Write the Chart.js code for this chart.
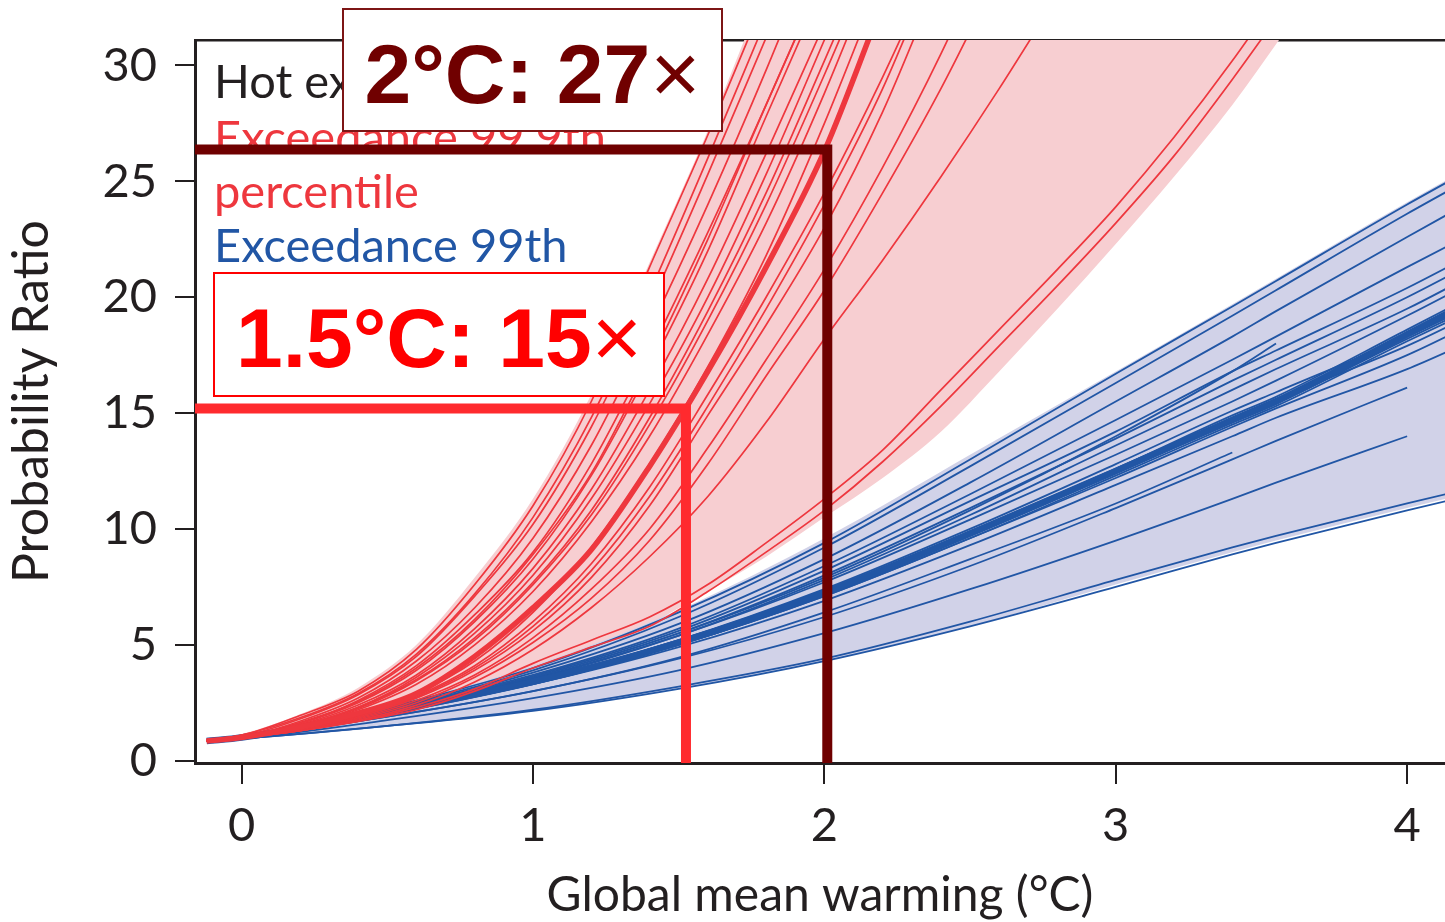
<!DOCTYPE html>
<html lang="en">
<head>
<meta charset="UTF-8">
<title>Hot extremes: probability ratio vs warming</title>
<script src="https://cdn.jsdelivr.net/npm/chart.js"></script>
<style>
  html, body { margin: 0; padding: 0; background: #fff; }
  #wrap { width: 1445px; height: 922px; position: relative; }
</style>
</head>
<body>
<div id="wrap"><canvas id="prChart"></canvas></div>
<script>
// warming levels (°C) at which the red (99.9th) model runs were read
const redWarming = [-0.12, 0, 0.2, 0.4, 0.6, 0.8, 1.0, 1.2, 1.4, 1.6, 1.8, 2.0, 2.2, 2.4, 2.6, 2.8, 3.0, 3.2, 3.4, 3.6];
const redRuns = [
  [0.9, 1.1, 1.95, 3.0, 4.8, 7.6, 11.0, 15.5, 21.3, 27.0, 33.0],
  [0.9, 1.05, 1.8, 2.85, 4.5, 7.1, 10.2, 14.4, 19.6, 25.3, 31.2, 37],
  [0.85, 1.1, 1.85, 2.9, 4.6, 7.2, 10.5, 14.8, 20.2, 26.0, 32.0],
  [0.9, 1.0, 1.7, 2.7, 4.3, 6.6, 9.6, 13.6, 18.6, 24.0, 29.8, 36],
  [0.85, 1.0, 1.6, 2.6, 4.1, 6.3, 9.0, 12.8, 17.6, 22.8, 28.3, 34],
  [0.85, 1.0, 1.6, 2.5, 3.9, 6.0, 8.7, 12.3, 16.9, 22.0, 27.8, 33.5],
  [0.85, 1.0, 1.65, 2.55, 4.0, 6.1, 8.9, 12.4, 17.2, 22.5, 28.3, 34],
  [0.85, 1.0, 1.55, 2.4, 3.7, 5.7, 8.3, 11.7, 16.0, 20.8, 26.2, 31.8],
  [0.9, 1.0, 1.5, 2.3, 3.6, 5.5, 8.0, 11.3, 15.4, 20.0, 25.3, 31.1, 37],
  [0.9, 1.0, 1.5, 2.3, 3.5, 5.3, 7.7, 10.8, 14.8, 19.4, 24.5, 30.2, 36],
  [0.9, 1.0, 1.5, 2.25, 3.45, 5.2, 7.6, 10.6, 14.5, 19.0, 24.0, 29.6, 35.5],
  [0.85, 1.0, 1.45, 2.2, 3.3, 5.0, 7.3, 10.3, 14.0, 18.4, 23.2, 28.8, 35],
  [0.85, 1.0, 1.4, 2.0, 2.9, 4.3, 6.4, 9.2, 12.8, 17.0, 21.8, 27.5, 33.8],
  [0.85, 1.0, 1.4, 1.95, 2.8, 4.1, 6.0, 8.5, 11.8, 15.8, 20.0, 24.5, 29.5, 35],
  [0.85, 1.0, 1.35, 1.9, 2.7, 3.9, 5.6, 7.9, 11.0, 14.9, 18.8, 23.0, 28.0, 34],
  [0.85, 1.0, 1.35, 1.9, 2.75, 4.0, 5.8, 8.2, 11.4, 15.3, 19.5, 24.0, 29.0, 35],
  [0.85, 1.0, 1.35, 1.85, 2.6, 3.7, 5.3, 7.4, 10.0, 13.5, 17.3, 21.2, 25.6, 30.5, 36],
  [0.85, 1.0, 1.3, 1.8, 2.5, 3.6, 5.1, 7.0, 9.5, 12.8, 16.6, 20.3, 24.5, 29.0, 34],
  [0.85, 1.0, 1.3, 1.75, 2.4, 3.4, 4.8, 6.6, 8.8, 11.4, 14.6, 18.2, 21.6, 25.2, 29.0, 33],
  [0.85, 1.0, 1.3, 1.7, 2.3, 3.1, 4.2, 5.2, 6.2, 7.6, 9.4, 11.3, 13.4, 16.0, 18.6, 21.2, 23.9, 26.9, 30.2, 33.8],
  [0.85, 1.0, 1.3, 1.7, 2.2, 3.0, 4.0, 4.9, 5.8, 7.3, 9.0, 10.8, 12.9, 15.3, 17.9, 20.5, 23.2, 26.1, 29.4, 32.9]
];
const redMedian = [0.85, 1.0, 1.45, 2.05, 2.9, 4.5, 6.6, 9.1, 12.7, 16.8, 21.3, 26.3, 32.7];
const redBandHigh = [0.9, 1.15, 2.0, 3.15, 5.0, 7.9, 11.3, 15.8, 21.5, 27.2, 33.5, 40, 40, 40, 40, 40, 40, 40, 40, 40];
const redBandLow = [0.85, 1.0, 1.4, 1.85, 2.5, 3.2, 3.9, 4.8, 5.9, 7.3, 8.8, 10.5, 12.2, 14.2, 16.8, 19.5, 22.3, 25.2, 28.3, 31.8];

// warming levels (°C) at which the blue (99th) model runs were read
const blueWarming = [-0.12, 0, 0.5, 1.0, 1.5, 2.0, 2.5, 3.0, 3.4, 3.55, 4.0, 4.2];
const blueRuns = [
  [0.85, 1.0, 2.3, 4.0, 6.4, 9.4, 13.0, 16.7, 19.6, 20.7, 24.0, 25.4],
  [0.85, 1.0, 2.25, 3.9, 6.2, 9.2, 12.7, 16.3, 19.2, 20.3, 23.6, 25.0],
  [0.85, 1.0, 2.2, 3.8, 5.9, 8.7, 12.0, 15.5, 18.3, 19.4, 22.6, 24.0],
  [0.85, 1.0, 2.2, 3.7, 5.7, 8.4, 11.5, 14.7, 17.3, 18.3, 21.3, 22.6],
  [0.85, 1.0, 2.15, 3.65, 5.6, 8.2, 11.2, 14.2, 16.8, 17.7, 20.4, 21.7],
  [0.85, 1.0, 2.15, 3.6, 5.5, 8.0, 10.9, 13.9, 16.4, 17.3, 20.0, 21.3],
  [0.85, 1.0, 2.1, 3.5, 5.4, 7.8, 10.6, 13.6, 16.0, 16.9, 19.5, 20.8],
  [0.85, 1.0, 2.15, 3.55, 5.4, 7.7, 10.4, 13.2, 15.5, 16.4, 19.2, 20.5],
  [0.85, 1.0, 2.1, 3.45, 5.2, 7.4, 10.0, 12.8, 15.1, 15.9, 18.3, 19.5],
  [0.85, 1.0, 2.1, 3.4, 5.1, 7.2, 9.7, 12.4, 14.6, 15.4, 18.2, 19.4],
  [0.85, 1.0, 2.1, 3.4, 5.2, 7.3, 9.9, 12.6, 14.9, 15.7, 18.6, 19.9],
  [0.85, 1.0, 2.1, 3.45, 5.15, 7.3, 9.85, 12.6, 14.8, 15.6, 18.5, 19.8],
  [0.85, 1.0, 2.05, 3.4, 5.1, 7.3, 9.8, 12.5, 14.8, 15.6, 17.9, 19.1],
  [0.85, 1.0, 2.05, 3.35, 5.0, 7.1, 9.6, 12.3, 14.5, 15.3, 18.1, 19.3],
  [0.85, 1.0, 2.05, 3.3, 5.0, 7.1, 9.6, 12.2, 14.4, 15.2, 17.5, 18.7],
  [0.85, 1.0, 2.0, 3.3, 4.9, 6.9, 9.3, 11.9, 14.0, 14.8, 16.9, 18.0],
  [0.85, 1.0, 2.15, 3.6, 5.5, 7.9, 10.8, 14.0, 16.8, 18.0],
  [0.85, 1.0, 1.9, 3.0, 4.4, 6.2, 8.4, 10.9, 13.0, 13.8, 16.1],
  [0.85, 0.95, 1.75, 2.7, 3.9, 5.5, 7.4, 9.5, 11.3, 12.0, 14.0],
  [0.85, 1.0, 1.9, 3.0, 4.45, 6.4, 8.7, 11.1, 13.3],
  [0.85, 0.95, 1.5, 2.2, 3.2, 4.4, 6.0, 7.8, 9.2, 9.7, 11.1, 11.7],
  [0.85, 0.95, 1.5, 2.15, 3.1, 4.3, 5.8, 7.5, 8.9, 9.4, 10.8, 11.4]
];
const blueMedian = [0.85, 1.0, 2.1, 3.4, 5.1, 7.25, 9.8, 12.5, 14.7, 15.5, 18.4, 19.7];
const blueBandHigh = [0.85, 1.0, 2.35, 4.1, 6.5, 9.6, 13.2, 16.8, 19.7, 20.8, 24.1, 25.5];
const blueBandLow = [0.85, 0.92, 1.45, 2.15, 3.1, 4.3, 5.8, 7.6, 9.0, 9.5, 10.9, 11.5];

// read-offs marked on the median: 1.5°C and 2°C
const markerWarming = [1.525, 2.01];
const markerRatio = [15.2, 26.37];

const xTicks = [0, 1, 2, 3, 4];
const yTicks = [0, 5, 10, 15, 20, 25, 30];
const xMin = -0.16, xMax = 4.13, yMin = -0.1, yMax = 31.1;

const legendLines = ['Hot extremes', 'Exceedance 99.9th', 'percentile', 'Exceedance 99th'];

const ink = '#231f20';
const redLine = '#ee373e';
const blueLine = '#2156a5';
const pinkFill = '#f7ced1';
const blueFill = '#d1d2e8';
const darkRed = '#6f0000';
const markRed = '#ff2a2e';

const pts = (xs, ys) => xs.map((x, i) => ({ x: x, y: ys[i] })).filter(p => p.y != null);

function lineSet(xs, ys, color, width) {
  return {
    data: pts(xs, ys),
    borderColor: color,
    borderWidth: width,
    pointRadius: 0,
    fill: false,
    cubicInterpolationMode: 'monotone',
    clip: 0
  };
}

function bandSet(xs, ys, color, fillNext) {
  return {
    data: pts(xs, ys),
    borderWidth: 0,
    borderColor: 'rgba(0,0,0,0)',
    backgroundColor: color,
    pointRadius: 0,
    fill: fillNext ? '+1' : false,
    cubicInterpolationMode: 'monotone',
    clip: 0
  };
}

function markerSet(i, color) {
  return {
    data: [
      { x: xMin - 0.1, y: markerRatio[i] },
      { x: markerWarming[i], y: markerRatio[i] },
      { x: markerWarming[i], y: yMin }
    ],
    borderColor: color,
    borderWidth: 10,
    borderJoinStyle: 'miter',
    borderCapStyle: 'butt',
    pointRadius: 0,
    tension: 0,
    fill: false,
    clip: 0
  };
}

// first dataset ends up on top
const datasets = [];
datasets.push(markerSet(1, darkRed));
datasets.push(markerSet(0, markRed));
datasets.push(lineSet(redWarming, redMedian, redLine, 5.5));
redRuns.forEach(r => datasets.push(lineSet(redWarming, r, redLine, 1.7)));
datasets.push(lineSet(blueWarming, blueMedian, blueLine, 6.5));
blueRuns.forEach(r => datasets.push(lineSet(blueWarming, r, blueLine, 1.8)));
datasets.push(bandSet(blueWarming, blueBandHigh, blueFill, true));
datasets.push(bandSet(blueWarming, blueBandLow, blueFill, false));
datasets.push(bandSet(redWarming, redBandHigh, pinkFill, true));
datasets.push(bandSet(redWarming, redBandLow, pinkFill, false));

function drawBox(ctx, b) {
  ctx.save();
  ctx.fillStyle = '#fff';
  ctx.fillRect(b.x, b.y, b.w, b.h);
  ctx.strokeStyle = b.border;
  ctx.lineWidth = 2;
  ctx.strokeRect(b.x, b.y, b.w, b.h);
  ctx.fillStyle = b.color;
  ctx.textBaseline = 'alphabetic';
  ctx.textAlign = 'left';
  ctx.font = 'bold 84px "Liberation Sans", Arial, sans-serif';
  const wMain = ctx.measureText(b.text).width;
  ctx.font = '86px "Liberation Sans", Arial, sans-serif';
  const wTimes = ctx.measureText('×').width;
  const start = b.x + b.w / 2 - (wMain + wTimes) / 2;
  ctx.font = 'bold 84px "Liberation Sans", Arial, sans-serif';
  ctx.fillText(b.text, start, b.base);
  ctx.font = '86px "Liberation Sans", Arial, sans-serif';
  ctx.fillText('×', start + wMain, b.base);
  ctx.restore();
}

const overlay = {
  id: 'overlay',
  beforeDatasetDraw(chart, args) {
    if (args.index !== 1) return;
    const ctx = chart.ctx;
    const colors = [ink, redLine, redLine, blueLine];
    const baselines = [98, 154, 208, 262];
    ctx.save();
    ctx.font = '47px Lato, sans-serif';
    ctx.textAlign = 'left';
    ctx.textBaseline = 'alphabetic';
    legendLines.forEach((t, i) => {
      ctx.fillStyle = colors[i];
      ctx.fillText(t, chart.chartArea.left + 19, baselines[i]);
    });
    ctx.restore();
  },
  afterDatasetsDraw(chart) {
    const ctx = chart.ctx;
    drawBox(ctx, { x: 343, y: 9, w: 379, h: 122, border: '#7d1515', color: '#700000', text: '2°C: 27', base: 103 });
    drawBox(ctx, { x: 214, y: 273, w: 450, h: 123, border: '#ff0000', color: '#ff0000', text: '1.5°C: 15', base: 367 });
  }
};

Chart.defaults.font.family = 'Lato, sans-serif';
Chart.defaults.color = ink;

new Chart(document.getElementById('prChart'), {
  type: 'line',
  data: { datasets: datasets },
  plugins: [overlay],
  options: {
    responsive: true,
    maintainAspectRatio: false,
    animation: false,
    devicePixelRatio: 1,
    events: [],
    layout: { padding: 0 },
    plugins: { legend: { display: false }, tooltip: { enabled: false } },
    scales: {
      x: {
        type: 'linear', position: 'bottom', min: xMin, max: xMax,
        afterBuildTicks: s => { s.ticks = xTicks.map(v => ({ value: v })); },
        afterFit: s => { s.height = 159; s.paddingLeft = 0; s.paddingRight = 0; },
        grid: { drawOnChartArea: false, drawTicks: true, tickLength: 21, color: ink, lineWidth: 2 },
        border: { display: true, color: ink, width: 3 },
        ticks: { color: ink, font: { size: 47 }, padding: 14, maxRotation: 0, autoSkip: false },
        title: { display: true, text: 'Global mean warming (°C)', color: ink, font: { size: 48, lineHeight: 1 }, padding: { top: 0, bottom: 2 } }
      },
      xTop: {
        type: 'linear', axis: 'x', position: 'top', min: xMin, max: xMax,
        afterFit: s => { s.height = 40; s.paddingLeft = 0; s.paddingRight = 0; },
        grid: { display: false },
        ticks: { display: false },
        border: { display: true, color: ink, width: 2.5 }
      },
      y: {
        type: 'linear', position: 'left', min: yMin, max: yMax,
        afterBuildTicks: s => { s.ticks = yTicks.map(v => ({ value: v })); },
        afterFit: s => { s.width = 195; s.paddingTop = 0; s.paddingBottom = 0; },
        grid: { drawOnChartArea: false, drawTicks: true, tickLength: 20, color: ink, lineWidth: 2 },
        border: { display: true, color: ink, width: 3 },
        ticks: { color: ink, font: { size: 47 }, padding: 18 },
        title: { display: true, text: 'Probability Ratio', color: ink, font: { size: 50, lineHeight: 1 }, padding: { top: 7, bottom: 0 } }
      }
    }
  }
});
</script>
</body>
</html>
